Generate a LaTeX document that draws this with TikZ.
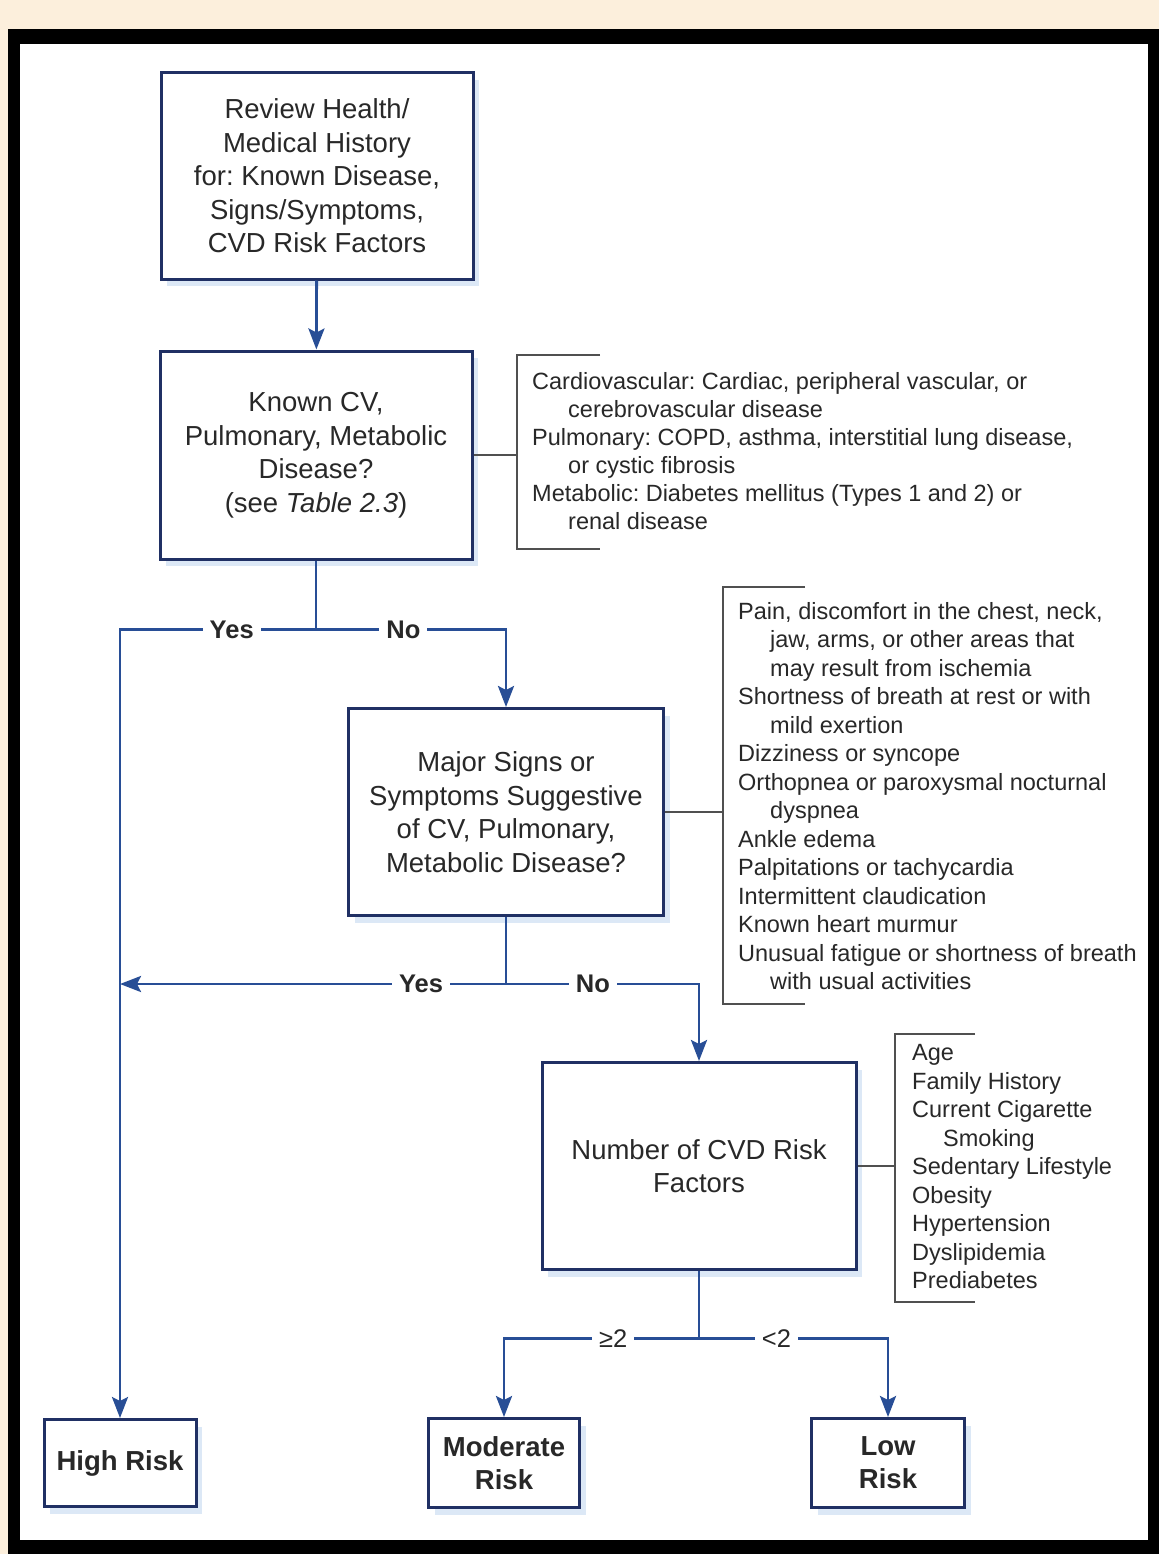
\documentclass[tikz,border=0pt]{standalone}
\usepackage{fontspec}
\setmainfont{Liberation Sans}
\usetikzlibrary{arrows.meta,shadows}
\definecolor{pagebeige}{RGB}{252,239,220}
\definecolor{boxnavy}{RGB}{32,48,100}
\definecolor{flowblue}{RGB}{40,78,150}
\definecolor{shadeblue}{RGB}{220,232,246}
\definecolor{inkgray}{RGB}{40,40,40}
\definecolor{bracegray}{RGB}{80,80,80}
\frenchspacing
\begin{document}
\begin{tikzpicture}[x=1pt,y=-1pt]
\tikzstyle{box}=[draw=boxnavy,line width=3pt,fill=white,text=inkgray,align=center,inner sep=0pt,font=\fontsize{27.5}{33.5}\selectfont,drop shadow={shadow xshift=6pt,shadow yshift=-7pt,fill=shadeblue,opacity=1}]
\tikzstyle{riskbox}=[box,font=\bfseries\fontsize{27.5}{33}\selectfont]
\tikzstyle{sidelist}=[anchor=west,align=left,inner sep=0pt,text=inkgray,font=\fontsize{23.5}{28.5}\selectfont]
\tikzstyle{flowline}=[draw=flowblue,line width=2.8pt]
\tikzstyle{flow}=[flowline,-{Stealth[length=21pt,width=16pt,inset=4pt]}]
\tikzstyle{lbl}=[fill=white,text=inkgray,inner xsep=7pt,inner ysep=2pt,font=\bfseries\fontsize{25.5}{26}\selectfont]
\tikzstyle{numlbl}=[lbl,font=\fontsize{25.5}{26}\selectfont]
\tikzstyle{bracketline}=[draw=bracegray,line width=1.5pt]

\fill[pagebeige] (0,0) rectangle (1159,1554);
\fill[black] (8,29) rectangle (1159,1554);
\fill[white] (20,44) rectangle (1148,1540);
\useasboundingbox (0,0) rectangle (1159,1554);

\node[box,minimum width=312pt,minimum height=206pt] (reviewnode) at (317,176) {Review Health/\\Medical History\\for: Known Disease,\\Signs/Symptoms,\\CVD Risk Factors};
\node[box,minimum width=312pt,minimum height=208pt] (knownnode) at (316,455) {Known CV,\\Pulmonary, Metabolic\\Disease?\\(see \textit{Table 2.3})};
\node[box,minimum width=315pt,minimum height=207pt] (signsnode) at (506,812) {Major Signs or\\Symptoms Suggestive\\of CV, Pulmonary,\\Metabolic Disease?};
\node[box,minimum width=314pt,minimum height=207pt] (factorsnode) at (699,1166) {Number of CVD Risk\\Factors};
\node[riskbox,minimum width=152pt,minimum height=87pt] (highnode) at (120,1463) {High Risk};
\node[riskbox,minimum width=151pt,minimum height=89pt] (moderatenode) at (504,1463) {Moderate\\Risk};
\node[riskbox,minimum width=153pt,minimum height=89pt] (lownode) at (888,1463) {Low\\Risk};

\node[sidelist,font=\fontsize{23.5}{28}\selectfont] (cvlist) at (532,451) {Cardiovascular: Cardiac, peripheral vascular, or\\\hspace*{36pt}cerebrovascular disease\\Pulmonary: COPD, asthma, interstitial lung disease,\\\hspace*{36pt}or cystic fibrosis\\Metabolic: Diabetes mellitus (Types 1 and 2) or\\\hspace*{36pt}renal disease};
\node[sidelist] (signslist) at (738,796) {Pain, discomfort in the chest, neck,\\\hspace*{32pt}jaw, arms, or other areas that\\\hspace*{32pt}may result from ischemia\\Shortness of breath at rest or with\\\hspace*{32pt}mild exertion\\Dizziness or syncope\\Orthopnea or paroxysmal nocturnal\\\hspace*{32pt}dyspnea\\Ankle edema\\Palpitations or tachycardia\\Intermittent claudication\\Known heart murmur\\Unusual fatigue or shortness of breath\\\hspace*{32pt}with usual activities};
\node[sidelist] (factorslist) at (912,1167) {Age\\Family History\\Current Cigarette\\\hspace*{31pt}Smoking\\Sedentary Lifestyle\\Obesity\\Hypertension\\Dyslipidemia\\Prediabetes};

\coordinate (cvbrace) at (517,455);
\coordinate (signsbrace) at (723,812);
\coordinate (factorsbrace) at (895,1166);
\draw[bracketline] (600,355) -- (517,355) -- (517,549) -- (600,549);
\draw[bracketline] (805,587) -- (723,587) -- (723,1004) -- (805,1004);
\draw[bracketline] (975,1034) -- (895,1034) -- (895,1302) -- (975,1302);
\draw[bracketline] (knownnode.east) -- (cvbrace);
\draw[bracketline] (signsnode.east) -- (signsbrace);
\draw[bracketline] (factorsnode.east) -- (factorsbrace);

\path (knownnode.south) ++(0,69) coordinate (fork1);
\path (signsnode.south) ++(0,67) coordinate (fork2);
\path (factorsnode.south) ++(0,67.5) coordinate (fork3);

\draw[flow] (reviewnode) -- (knownnode);
\draw[flowline] (knownnode) -- (fork1);
\draw[flow] (fork1) -- node[lbl,pos=0.43]{Yes} (highnode.north |- fork1) -- (highnode.north);
\draw[flow] (fork1) -- node[lbl,pos=0.46]{No} (signsnode.north |- fork1) -- (signsnode.north);
\draw[flowline] (signsnode) -- (fork2);
\draw[flow] (fork2) -- node[lbl,pos=0.22]{Yes} (highnode.north |- fork2);
\draw[flow] (fork2) -- node[lbl,pos=0.45]{No} (factorsnode.north |- fork2) -- (factorsnode.north);
\draw[flowline] (factorsnode) -- (fork3);
\draw[flow] (fork3) -- node[numlbl,pos=0.44]{≥2} (moderatenode.north |- fork3) -- (moderatenode.north);
\draw[flow] (fork3) -- node[numlbl,pos=0.41]{<2} (lownode.north |- fork3) -- (lownode.north);
\end{tikzpicture}
\end{document}
